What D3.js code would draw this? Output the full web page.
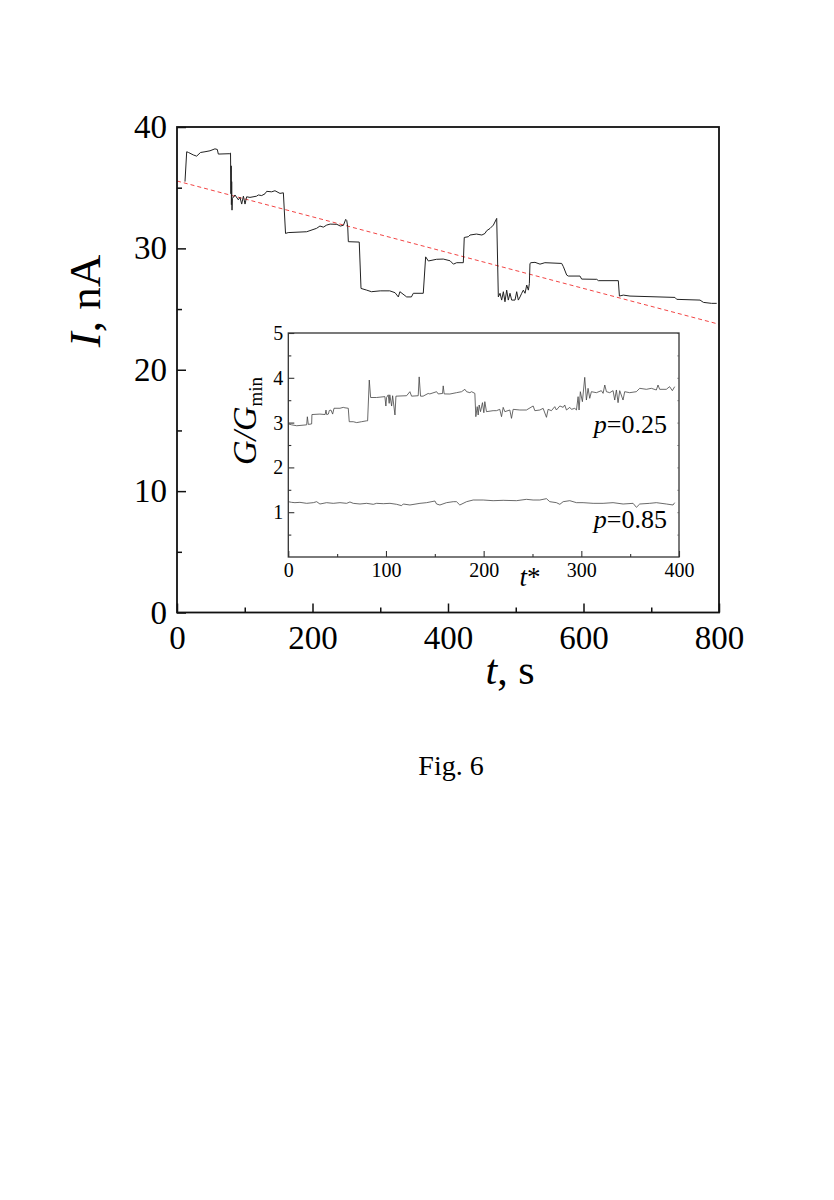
<!DOCTYPE html>
<html>
<head>
<meta charset="utf-8">
<script src="https://cdn.jsdelivr.net/npm/d3@7"></script>
<style>
  html, body { margin: 0; padding: 0; background: #fff; }
  svg { display: block; }
  text { font-family: "Liberation Serif", "DejaVu Serif", serif; fill: #000; }
</style>
</head>
<body>
<svg id="chart" width="834" height="1200"></svg>
<script>
// ---------- main data: current I (nA) vs time t (s) ----------
const mainT = [11.8,14.3,17,24,29,34.7,41.3,48.7,56,59.5,61,78,79,79.6,80,80.3,80.7,81.2,81.7,85.6,90.5,93,95.5,98,100.4,102.8,107.7,117.5,120,125,129.9,132.4,139.7,144.6,152,157,160.2,164,191.4,206,211,216,221,226,236,241,245.6,249,250.5,252,252.9,269,271.6,280,287,300,314,321.8,326.7,329,339,346,348.8,363.5,367,371,383,393,403,408,412.8,422.6,424,430,432.5,442,450,454.6,457,462,467,471.9,474.3,476.8,479.2,481.7,484.1,486.6,489,491.5,494,498.9,501.4,503.8,506.3,508.8,511.2,513.7,516.2,518.6,520.1,521,522.5,528.4,535.8,543,567.8,570.3,575.2,577.6,594.8,597.3,619.5,622,651.4,653,658.8,668.6,735,737.6,772,777,789,796.6];
const mainI = [35.5,37.96,37.9,37.7,37.6,37.9,37.96,38.04,38.2,38.15,37.77,37.8,37.85,34.5,36.8,33.6,35.5,33.15,34.1,34.4,34.0,34.2,33.65,34.3,33.65,34.25,34.2,34.3,34.4,34.35,34.5,34.7,34.66,34.75,34.53,34.58,31.23,31.3,31.37,31.65,31.84,31.75,31.92,32.0,31.98,31.84,31.9,32.39,32.3,31.78,30.55,30.52,26.7,26.56,26.43,26.5,26.5,26.35,26.0,26.43,26.0,26.0,26.3,26.3,29.3,28.96,29.1,29.12,28.98,28.7,28.82,28.82,30.9,30.96,31.1,31.18,31.1,31.23,31.45,31.64,31.92,32.47,26.0,26.3,25.74,26.43,25.6,26.56,25.74,26.3,25.74,25.74,26.43,25.74,26.0,26.3,26.56,26.3,26.98,26.56,27.1,28.76,28.82,28.85,28.7,28.82,28.76,28.49,27.8,27.72,27.72,27.47,27.45,27.34,27.34,26.07,26.15,26.07,25.96,25.8,25.74,25.55,25.47,25.47];
// linear trend (red dashed)
const trendT = [0, 800];
const trendI = [35.55, 23.75];

const mainXTicks = [0, 200, 400, 600, 800];
const mainXMinor = [100, 300, 500, 700];
const mainYTicks = [0, 10, 20, 30, 40];
const mainYMinor = [5, 15, 25, 35];

// ---------- inset data: G/Gmin vs t* ----------
const insetT25 = [0,3.4,8.6,18.8,19.5,20.5,23.9,24.2,32.4,37.7,38.6,39.3,41,42,43.7,45.4,46.8,52.9,56.3,58,61.4,62.4,66.5,70,75,80.2,81.2,82.9,84.3,90.4,98.9,99.9,100.6,102.3,103.3,103.9,105.8,106.8,109.2,110.2,121.1,124.5,126.2,133,134,135.4,138,143.2,144.9,151.8,153.5,157.9,158.6,159.6,165.4,172.2,177.4,180.8,182.5,185.9,187.6,191,192,193.4,194.4,195.4,196.8,198.8,200.2,201.2,202.9,209.7,213.1,216.5,218.3,220,221.7,226.8,228.5,230.2,237,243.8,250.7,252.4,257.5,260.9,264.3,266,269.4,272.8,274.5,278,281.4,283,284.8,288.2,289.9,293.3,295,296.7,297.7,299,301.1,303.5,305.2,306.9,308.6,310.3,315.4,320.5,322.3,324,325.7,329.1,332.5,334.2,335.9,337.6,339.3,342.7,344.4,349.5,356.3,359.8,366.6,371.7,376.8,378.5,380.2,387,390.4,393.2,395.6];
const insetG25 = [2.97,2.95,2.93,2.95,3.13,2.96,2.97,3.18,3.19,3.18,3.28,3.18,3.19,3.27,3.28,3.19,3.32,3.32,3.34,3.33,3.32,3.02,3.02,3.00,3.02,3.04,3.04,3.95,3.56,3.56,3.58,3.37,3.56,3.62,3.43,3.62,3.37,3.60,3.17,3.59,3.60,3.69,3.59,3.60,4.02,3.59,3.59,3.65,3.64,3.69,3.64,3.65,3.82,3.64,3.638,3.668,3.69,3.743,3.69,3.668,3.69,3.653,3.132,3.356,3.17,3.393,3.244,3.445,3.22,3.467,3.244,3.266,3.266,3.296,3.132,3.34,3.244,3.281,3.095,3.296,3.281,3.281,3.371,3.266,3.281,3.318,3.118,3.296,3.266,3.356,3.281,3.371,3.34,3.393,3.281,3.34,3.296,3.318,3.281,3.579,3.281,3.69,3.467,4.01,3.504,3.765,3.542,3.69,3.668,3.713,3.653,3.839,3.69,3.668,3.713,3.504,3.728,3.445,3.713,3.504,3.69,3.668,3.69,3.765,3.743,3.765,3.728,3.839,3.743,3.743,3.802,3.713,3.802];
const insetT85 = [0,3.4,6.8,11.9,18.8,25.6,29,32.4,39.2,46,52.9,59.7,63.1,66.5,73.4,80.2,87,90.4,97.3,104.1,110.9,116,117.7,124.5,134.8,141.6,150.1,151.8,155.2,162,168.9,172.2,175.6,182.5,189.3,199.5,209.7,220,233.6,243.8,250.7,257.5,264.3,267.7,274.5,278,281.4,288.2,295,301.8,312.1,322.3,332.5,342.8,353,356.4,359.8,370,376.8,387.1,393.9,395.6];
const insetG85 = [1.235,1.220,1.213,1.220,1.198,1.213,1.235,1.183,1.213,1.198,1.213,1.198,1.228,1.198,1.183,1.198,1.176,1.198,1.190,1.198,1.176,1.146,1.183,1.161,1.198,1.213,1.25,1.183,1.161,1.213,1.235,1.235,1.161,1.235,1.272,1.272,1.257,1.265,1.257,1.287,1.272,1.272,1.302,1.235,1.213,1.176,1.235,1.257,1.213,1.213,1.198,1.198,1.213,1.183,1.198,1.109,1.183,1.198,1.213,1.183,1.161,1.213];

const insetXTicks = [0, 100, 200, 300, 400];
const insetXMinor = [50, 150, 250, 350];
const insetYTicks = [1, 2, 3, 4, 5];
const insetYMinor = [0.5, 1.5, 2.5, 3.5, 4.5];

// ---------- drawing ----------
const svg = d3.select("#chart");

// main plot frame
const M = { left: 177, right: 719, top: 127, bottom: 612.5 };
const x = d3.scaleLinear().domain([0, 800]).range([M.left, M.right]);
const y = d3.scaleLinear().domain([0, 40]).range([M.bottom, M.top]);

svg.append("defs").append("clipPath").attr("id", "mainClip")
  .append("rect").attr("x", M.left).attr("y", M.top)
  .attr("width", M.right - M.left).attr("height", M.bottom - M.top);

// axes (inward ticks)
function styleAxis(g, fontSize) {
  g.select(".domain").remove();
  g.selectAll(".tick line").attr("stroke", "#111").attr("stroke-width", 1.5);
  g.selectAll(".tick text").attr("font-size", fontSize)
    .attr("font-family", '"Liberation Serif", serif').attr("fill", "#000");
}
svg.append("g").attr("transform", `translate(0,${M.bottom})`)
  .call(d3.axisBottom(x).tickValues(mainXTicks).tickSize(-9).tickPadding(13).tickFormat(d3.format("d")))
  .call(g => styleAxis(g, 33));
svg.append("g").attr("transform", `translate(0,${M.bottom})`)
  .call(d3.axisBottom(x).tickValues(mainXMinor).tickSize(-5).tickFormat(""))
  .call(g => styleAxis(g, 33));
svg.append("g").attr("transform", `translate(${M.left},0)`)
  .call(d3.axisLeft(y).tickValues(mainYTicks).tickSize(-9).tickPadding(10).tickFormat(d3.format("d")))
  .call(g => styleAxis(g, 33));
svg.append("g").attr("transform", `translate(${M.left},0)`)
  .call(d3.axisLeft(y).tickValues(mainYMinor).tickSize(-5).tickFormat(""))
  .call(g => styleAxis(g, 33));

// trend line
const mainPts = mainT.map((t, i) => [t, mainI[i]]);
const trendPts = trendT.map((t, i) => [t, trendI[i]]);
const line = d3.line().x(d => x(d[0])).y(d => y(d[1]));
svg.append("path").datum(trendPts).attr("d", line)
  .attr("clip-path", "url(#mainClip)")
  .attr("fill", "none").attr("stroke", "#f03030").attr("stroke-width", 0.9)
  .attr("stroke-dasharray", "4,3");
svg.append("path").datum(mainPts).attr("d", line)
  .attr("clip-path", "url(#mainClip)")
  .attr("fill", "none").attr("stroke", "#222").attr("stroke-width", 1.0)
  .attr("stroke-linejoin", "round");

// main frame
svg.append("rect").attr("x", M.left).attr("y", M.top)
  .attr("width", M.right - M.left).attr("height", M.bottom - M.top)
  .attr("fill", "none").attr("stroke", "#111").attr("stroke-width", 1.8);

// main axis titles
const yt = svg.append("text").attr("transform", "translate(100,301) rotate(-90)")
  .attr("text-anchor", "middle").attr("font-size", 45);
yt.append("tspan").attr("font-style", "italic").text("I");
yt.append("tspan").text(", nA");
const xt = svg.append("text").attr("x", 510).attr("y", 684)
  .attr("text-anchor", "middle").attr("font-size", 42);
xt.append("tspan").attr("font-style", "italic").text("t");
xt.append("tspan").text(", s");

// ---------- inset ----------
const N = { left: 288.3, right: 679, top: 333, bottom: 557 };
const xi = d3.scaleLinear().domain([0, 400]).range([N.left, N.right]);
const yi = d3.scaleLinear().domain([0, 5]).range([N.bottom, N.top]);

svg.append("rect").attr("x", N.left).attr("y", N.top)
  .attr("width", N.right - N.left).attr("height", N.bottom - N.top)
  .attr("fill", "#fff");

function styleInset(g) {
  g.select(".domain").remove();
  g.selectAll(".tick line").attr("stroke", "#333").attr("stroke-width", 1.1);
  g.selectAll(".tick text").attr("font-size", 20)
    .attr("font-family", '"Liberation Serif", serif').attr("fill", "#000");
}
svg.append("g").attr("transform", `translate(0,${N.bottom})`)
  .call(d3.axisBottom(xi).tickValues(insetXTicks).tickSize(-6).tickPadding(6).tickFormat(d3.format("d")))
  .call(styleInset);
svg.append("g").attr("transform", `translate(0,${N.bottom})`)
  .call(d3.axisBottom(xi).tickValues(insetXMinor).tickSize(-3).tickFormat(""))
  .call(styleInset);
svg.append("g").attr("transform", `translate(${N.left},0)`)
  .call(d3.axisLeft(yi).tickValues(insetYTicks).tickSize(-6).tickPadding(5).tickFormat(d3.format("d")))
  .call(styleInset);
svg.append("g").attr("transform", `translate(${N.left},0)`)
  .call(d3.axisLeft(yi).tickValues(insetYMinor).tickSize(-3).tickFormat(""))
  .call(styleInset);
// faint mirrored ticks on right side
svg.append("g").attr("transform", `translate(${N.right},0)`)
  .call(d3.axisRight(yi).tickValues(insetYTicks.concat(insetYMinor)).tickSize(-2).tickFormat(""))
  .call(g => { g.select(".domain").remove(); g.selectAll(".tick line").attr("stroke", "#999").attr("stroke-width", 0.8); });

const linei = d3.line().x(d => xi(d[0])).y(d => yi(d[1]));
svg.append("path").datum(insetT25.map((t, i) => [t, insetG25[i]])).attr("d", linei)
  .attr("fill", "none").attr("stroke", "#444").attr("stroke-width", 0.8);
svg.append("path").datum(insetT85.map((t, i) => [t, insetG85[i]])).attr("d", linei)
  .attr("fill", "none").attr("stroke", "#444").attr("stroke-width", 0.8);

svg.append("rect").attr("x", N.left).attr("y", N.top)
  .attr("width", N.right - N.left).attr("height", N.bottom - N.top)
  .attr("fill", "none").attr("stroke", "#333").attr("stroke-width", 1.3);

// inset labels
function pLabel(yb, val) {
  const t = svg.append("text").attr("x", 667).attr("y", yb)
    .attr("text-anchor", "end").attr("font-size", 26);
  t.append("tspan").attr("font-style", "italic").text("p");
  t.append("tspan").text("=" + val);
}
pLabel(433, "0.25");
pLabel(528, "0.85");

const gl = svg.append("text").attr("transform", "translate(256,421) rotate(-90)")
  .attr("text-anchor", "middle").attr("font-size", 34);
gl.append("tspan").attr("font-style", "italic").text("G/G");
gl.append("tspan").attr("font-size", 19).attr("dy", 6).text("min");

const ts = svg.append("text").attr("x", 530).attr("y", 586)
  .attr("text-anchor", "middle").attr("font-size", 27);
ts.append("tspan").attr("font-style", "italic").text("t");
ts.append("tspan").text("*");

// figure caption
svg.append("text").attr("x", 451).attr("y", 775)
  .attr("text-anchor", "middle").attr("font-size", 28).text("Fig. 6");
</script>
</body>
</html>
